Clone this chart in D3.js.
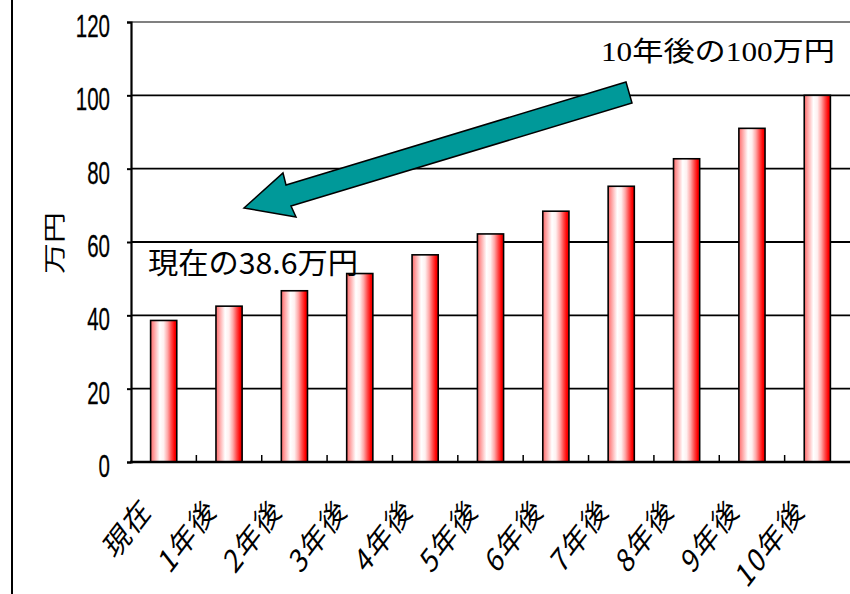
<!DOCTYPE html>
<html>
<head>
<meta charset="utf-8">
<script src="https://cdn.jsdelivr.net/npm/d3@7"></script>
<style>
  html, body { margin: 0; padding: 0; background: #fff; }
  svg { display: block; }
</style>
</head>
<body>
<svg id="chart" width="850" height="594"></svg>
<script>
// ---- data ----
const categories = ["現在", "1年後", "2年後", "3年後", "4年後", "5年後", "6年後", "7年後", "8年後", "9年後", "10年後"];
const values = [38.6, 42.5, 46.7, 51.4, 56.5, 62.2, 68.4, 75.2, 82.7, 91.0, 100.0];
const yTicks = [0, 20, 40, 60, 80, 100, 120];
const yTitle = "万円";
const noteTop = "10年後の100万円";
const noteNow = "現在の38.6万円";

// ---- layout ----
const W = 850, H = 594;
const plot = { left: 131, right: 850, top: 22, bottom: 462 };
const svg = d3.select("#chart");

const x = d3.scaleBand().domain(categories).range([plot.left, plot.right])
  .paddingInner(0.6).paddingOuter(0.3);
const y = d3.scaleLinear().domain([0, 120]).range([plot.bottom, plot.top]);

// gradient for bars
const defs = svg.append("defs");
const grad = defs.append("linearGradient").attr("id", "barGrad")
  .attr("x1", "0").attr("x2", "1").attr("y1", "0").attr("y2", "0");
[[0, "#ff6a6a"], [0.12, "#ff9c9c"], [0.35, "#ffffff"], [0.5, "#fff0f0"],
 [0.65, "#ffa8a8"], [0.8, "#ff4545"], [0.92, "#ff0000"], [1, "#e00000"]]
  .forEach(([o, c]) => grad.append("stop").attr("offset", o).attr("stop-color", c));

// outer left border
svg.append("line").attr("x1", 12).attr("x2", 12).attr("y1", 0).attr("y2", H)
  .attr("stroke", "#000").attr("stroke-width", 2);

// gridlines
svg.append("g").selectAll("line").data(yTicks.filter(d => d > 0)).join("line")
  .attr("x1", plot.left).attr("x2", plot.right)
  .attr("y1", d => y(d)).attr("y2", d => y(d))
  .attr("stroke", d => d === 120 ? "#808080" : "#000")
  .attr("stroke-width", d => d === 120 ? 2 : 1.8);

// y axis (D3 axis, restyled)
const yAxis = svg.append("g").attr("transform", `translate(${plot.left},0)`)
  .call(d3.axisLeft(y).tickValues(yTicks).tickSize(4).tickFormat(""));
yAxis.select(".domain").attr("stroke", "#000").attr("stroke-width", 2.2);
yAxis.selectAll(".tick line").attr("stroke", "#000").attr("stroke-width", 2);

// y tick labels: tall narrow digits
svg.append("g").selectAll("text").data(yTicks).join("text")
  .attr("x", d => 110 - String(d).length * 11.4)
  .attr("y", d => y(d) + 15)
  .attr("font-family", "Liberation Sans, Arial, sans-serif")
  .attr("font-size", 32)
  .attr("textLength", d => String(d).length * 11.4)
  .attr("lengthAdjust", "spacingAndGlyphs")
  .attr("fill", "#000")
  .attr("stroke", "#000").attr("stroke-width", 0.3)
  .text(d => d);

// y title
svg.append("text")
  .attr("transform", "translate(52,243) rotate(-90)")
  .attr("text-anchor", "middle")
  .attr("dominant-baseline", "central")
  .attr("font-family", "Noto Sans CJK JP, sans-serif")
  .attr("font-size", 22)
  .attr("textLength", 62)
  .attr("lengthAdjust", "spacingAndGlyphs")
  .text(yTitle);

// bars
svg.append("g").selectAll("rect").data(values).join("rect")
  .attr("x", (d, i) => x(categories[i]))
  .attr("width", x.bandwidth())
  .attr("y", d => y(d))
  .attr("height", d => y(0) - y(d))
  .attr("fill", "url(#barGrad)")
  .attr("stroke", "#000").attr("stroke-width", 1.6);

// x axis baseline and inward ticks at category boundaries
const step = x.step();
svg.append("line").attr("x1", plot.left - 1).attr("x2", plot.right)
  .attr("y1", y(0)).attr("y2", y(0)).attr("stroke", "#000").attr("stroke-width", 2.4);
svg.append("g").selectAll("line").data(categories.slice(0, -1)).join("line")
  .attr("x1", d => x(d) + x.bandwidth() / 2 + step / 2)
  .attr("x2", d => x(d) + x.bandwidth() / 2 + step / 2)
  .attr("y1", y(0)).attr("y2", y(0) - 7)
  .attr("stroke", "#000").attr("stroke-width", 1.5);

// x labels: rotated, vertically stretched
svg.append("g").selectAll("text").data(categories).join("text")
  .attr("transform", d => `translate(${x(d) + x.bandwidth() / 2 - 11},512) scale(1,1.3) rotate(-45)`)
  .attr("text-anchor", "end")
  .attr("font-family", "Noto Sans CJK JP, sans-serif")
  .attr("font-size", 25)
  .attr("letter-spacing", 1.5)
  .attr("fill", "#000")
  .text(d => d);

// arrow annotation
const arrowPts = [[626, 82], [632, 103], [291, 206], [296, 217], [244, 208], [283, 173], [286, 185]];
svg.append("path")
  .attr("d", d3.line()(arrowPts) + "Z")
  .attr("fill", "#009999").attr("stroke", "#000").attr("stroke-width", 1.5)
  .attr("stroke-linejoin", "miter");

// notes
svg.append("text").attr("x", 601).attr("y", 61)
  .attr("font-family", "Liberation Serif, Noto Sans CJK JP, serif")
  .attr("font-size", 27)
  .attr("textLength", 234).attr("lengthAdjust", "spacingAndGlyphs")
  .text(noteTop);
svg.append("text").attr("x", 148).attr("y", 274)
  .attr("font-family", "Noto Sans CJK JP, sans-serif")
  .attr("font-size", 29)
  .attr("textLength", 210).attr("lengthAdjust", "spacingAndGlyphs")
  .text(noteNow);
</script>
</body>
</html>
